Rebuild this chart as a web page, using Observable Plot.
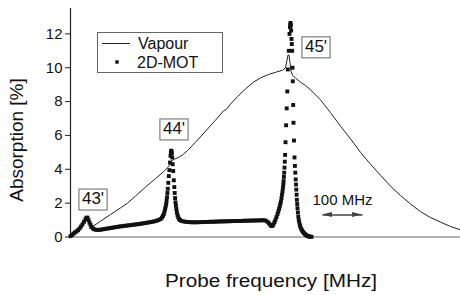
<!DOCTYPE html>
<html><head><meta charset="utf-8">
<script src="https://cdn.jsdelivr.net/npm/d3@7"></script>
<script src="https://cdn.jsdelivr.net/npm/@observablehq/plot@0.6"></script>
<style>
body{margin:0;background:#fff;}
#chart svg{font-family:"Liberation Sans",Arial,Helvetica,sans-serif;display:block;}
</style></head><body><div id="chart"></div>
<script>
// Vapour cell absorption (probe frequency in MHz, absorption in %)
const vapourFreq = [47.5,75,100,125,142.5,162.5,187.5,212.5,232.5,245,252.5,260,270,280,292.5,312.5,337.5,362.5,382.5,390,400,417.5,437.5,457.5,475,495,515,530,537.5,541.25,543.75,546.25,548.75,551.25,555,562.5,575,587.5,600,625,650,675,700,725,750,775,800,825,850,875,900,925,950,975];
const vapourAbs = [0.5,0.93,1.33,1.72,2.0,2.42,2.95,3.45,3.85,4.15,4.5,4.6,4.7,4.85,5.1,5.6,6.25,6.9,7.45,7.55,7.85,8.3,8.75,9.15,9.4,9.6,9.75,9.85,10.0,10.45,10.75,10.75,10.3,9.8,9.55,9.4,9.15,8.95,8.7,8.1,7.35,6.55,5.8,5.0,4.3,3.65,3.0,2.45,1.95,1.5,1.15,0.88,0.62,0.42];

// 2D-MOT absorption samples
const motFreq = [0,3.75,7.5,11.25,15,18.75,22.5,26.25,30,33.75,37.5,40,42.5,45,47.5,50,52.5,56.25,60,65,70,75,80,85,90,95,100,105,110,115,120,125,130,135,140,145,150,155,160,165,170,175,180,185,190,195,200,205,210,215,220,225,228.75,231.25,233.25,235,236.5,238,239.25,240.25,241.25,242.25,243.25,244.5,245.75,247.25,248.75,250,251,251.75,252.5,253.25,254.25,255.5,256.75,258.25,259.5,260.5,261.5,262.5,263.5,264.75,266,267.5,269.25,271.25,273.75,277.5,282.5,287.5,292.5,297.5,302.5,307.5,312.5,317.5,322.5,327.5,332.5,337.5,342.5,347.5,352.5,357.5,362.5,367.5,372.5,377.5,382.5,387.5,392.5,397.5,402.5,407.5,412.5,417.5,422.5,427.5,432.5,437.5,442.5,447.5,452.5,457.5,462.5,467.5,472.5,477.5,482.5,487.5,492.5,496.25,500,502.5,505,507.5,510,512.5,515,517.5,519.5,521.25,523,524.5,526,527.5,528.75,530,531,532,532.75,533.5,534.25,535,535.75,536.5,537.5,539,540.5,542,543.25,545.75,547.5,548.75,549.5,550,550.75,551.5,552.5,553.25,554,555,555.75,556.75,557.5,558.75,560,561,562,563,563.75,564.5,565.25,566,566.75,567.5,568.5,569.5,570.75,572,573.5,575,577,579,581.25,583.75,586.25,588.75,591.25,593.75,596.25,598.75,602.5];
const motAbs = [0.05,0.12,0.2,0.27,0.33,0.4,0.5,0.62,0.75,0.9,1.05,1.14,1.14,1.0,0.85,0.72,0.6,0.5,0.45,0.42,0.42,0.43,0.45,0.47,0.49,0.51,0.53,0.55,0.57,0.59,0.61,0.63,0.64,0.66,0.67,0.69,0.7,0.72,0.73,0.75,0.76,0.78,0.8,0.82,0.84,0.86,0.88,0.9,0.93,0.96,1.0,1.06,1.15,1.25,1.35,1.5,1.65,1.8,1.95,2.15,2.35,2.6,2.85,3.2,3.6,3.95,4.4,4.8,5.0,5.1,5.05,4.95,4.7,4.3,3.9,3.35,2.95,2.6,2.3,2.05,1.85,1.65,1.45,1.3,1.17,1.07,1.0,0.95,0.92,0.9,0.89,0.88,0.87,0.87,0.87,0.87,0.88,0.88,0.88,0.89,0.89,0.9,0.9,0.9,0.91,0.91,0.92,0.92,0.92,0.93,0.93,0.93,0.94,0.94,0.94,0.95,0.95,0.95,0.96,0.96,0.96,0.97,0.97,0.97,0.98,0.98,0.98,0.99,0.99,0.97,0.9,0.8,0.7,0.65,0.66,0.75,0.88,1.02,1.18,1.35,1.5,1.65,1.8,1.95,2.1,2.3,2.5,2.7,2.9,3.1,3.3,3.55,3.8,4.1,4.45,4.85,5.6,6.6,7.6,8.6,9.9,11.0,12.0,12.4,12.55,12.65,12.5,12.2,11.7,11.4,11.0,10.0,9.2,7.8,6.75,5.7,4.7,4.2,3.8,3.4,3.1,2.8,2.5,2.2,1.95,1.7,1.45,1.2,1.0,0.85,0.7,0.58,0.47,0.38,0.3,0.23,0.17,0.12,0.08,0.05,0.03,0.02,0.01];

const yTicks = [0,2,4,6,8,10,12];
const seriesNames = ["Vapour","2D-MOT"];
const peakNames = ["43'","44'","45'"];
const peakLabelFreq = [57.5,260,615];
const peakLabelAbs = [2.27,6.41,11.26];
const scaleBarFreq = [630,730];
const scaleBarAbs = 1.3;
const scaleBarLabel = "100 MHz";
const xTitle = "Probe frequency [MHz]";
const yTitle = "Absorption [%]";

const vapour = vapourFreq.map((f,i)=>({f, a: vapourAbs[i]}));
const mot = motFreq.map((f,i)=>({f, a: motAbs[i]}));

const plot = Plot.plot({
  width: 460, height: 295,
  marginLeft: 70, marginRight: 0, marginTop: 8, marginBottom: 58.5,
  x: {domain: [0, 975], axis: null},
  y: {domain: [0, 13.5], axis: null},
  style: {background: "#fff", color: "#111", overflow: "visible"},
  marks: [
    Plot.ruleY([0], {stroke: "#666", strokeWidth: 1.2}),
    Plot.ruleX([0], {stroke: "#222", strokeWidth: 1.2}),
    Plot.axisY(yTicks, {tickSize: 5, tickPadding: 3, fontSize: 15, stroke: "#222", label: null}),
    Plot.line(vapour, {x: "f", y: "a", stroke: "#222", strokeWidth: 1, curve: "linear"}),
    Plot.dot(mot, {x: "f", y: "a", symbol: "square", r: 2.2, fill: "#111", stroke: "none"}),
    Plot.link([{x1: scaleBarFreq[0], x2: scaleBarFreq[1], y: scaleBarAbs}], {x1: "x1", x2: "x2", y1: "y", y2: "y", stroke: "#444", strokeWidth: 1.5}),
    Plot.text([scaleBarLabel], {x: (scaleBarFreq[0]+scaleBarFreq[1])/2, y: scaleBarAbs + 0.9, text: d => d, fontSize: 15, fill: "#111"})
  ]
});

document.getElementById("chart").appendChild(plot);
const svg = d3.select(plot);
const sx = plot.scale("x"), sy = plot.scale("y");

// arrow heads
const ay = sy.apply(scaleBarAbs);
const xa = sx.apply(scaleBarFreq[0]), xb = sx.apply(scaleBarFreq[1]);
svg.append("path").attr("d", `M${xa},${ay}L${xa+10},${ay-2.5}L${xa+10},${ay+2.5}Z`).attr("fill", "#444");
svg.append("path").attr("d", `M${xb},${ay}L${xb-10},${ay-2.5}L${xb-10},${ay+2.5}Z`).attr("fill", "#444");

// peak labels with boxes
peakNames.forEach((name, i) => {
  const g = svg.append("g");
  const t = g.append("text").attr("x", sx.apply(peakLabelFreq[i])).attr("y", sy.apply(peakLabelAbs[i]))
    .attr("text-anchor", "middle").attr("dy", "0.35em").attr("font-size", 17).attr("fill", "#111").text(name);
  const b = t.node().getBBox();
  g.insert("rect", "text").attr("x", b.x - 3).attr("y", b.y).attr("width", b.width + 6).attr("height", b.height + 2)
    .attr("fill", "#fff").attr("stroke", "#666").attr("stroke-width", 1);
});

// legend
const lg = svg.append("g").attr("text-anchor", "start");
lg.append("rect").attr("x", 97.5).attr("y", 32.5).attr("width", 125).attr("height", 40).attr("fill", "#fff").attr("stroke", "#666");
lg.append("line").attr("x1", 102).attr("x2", 130).attr("y1", 43.5).attr("y2", 43.5).attr("stroke", "#222").attr("stroke-width", 1);
lg.append("rect").attr("x", 115.3).attr("y", 60.3).attr("width", 3.4).attr("height", 3.4).attr("fill", "#111");
lg.append("text").attr("x", 138).attr("y", 43.5).attr("dy", "0.35em").attr("text-anchor", "start").attr("font-size", 16).attr("fill", "#111").text(seriesNames[0]);
lg.append("text").attr("x", 137).attr("y", 62).attr("dy", "0.35em").attr("text-anchor", "start").attr("font-size", 16).attr("fill", "#111").text(seriesNames[1]);

// axis titles
svg.append("text").attr("x", 271).attr("y", 287).attr("text-anchor", "middle").attr("font-size", 18)
  .attr("textLength", 212).attr("lengthAdjust", "spacingAndGlyphs").attr("fill", "#111").text(xTitle);
svg.append("text").attr("transform", "translate(23,140) rotate(-90)").attr("text-anchor", "middle").attr("font-size", 19)
  .attr("fill", "#111").text(yTitle);
</script></body></html>
